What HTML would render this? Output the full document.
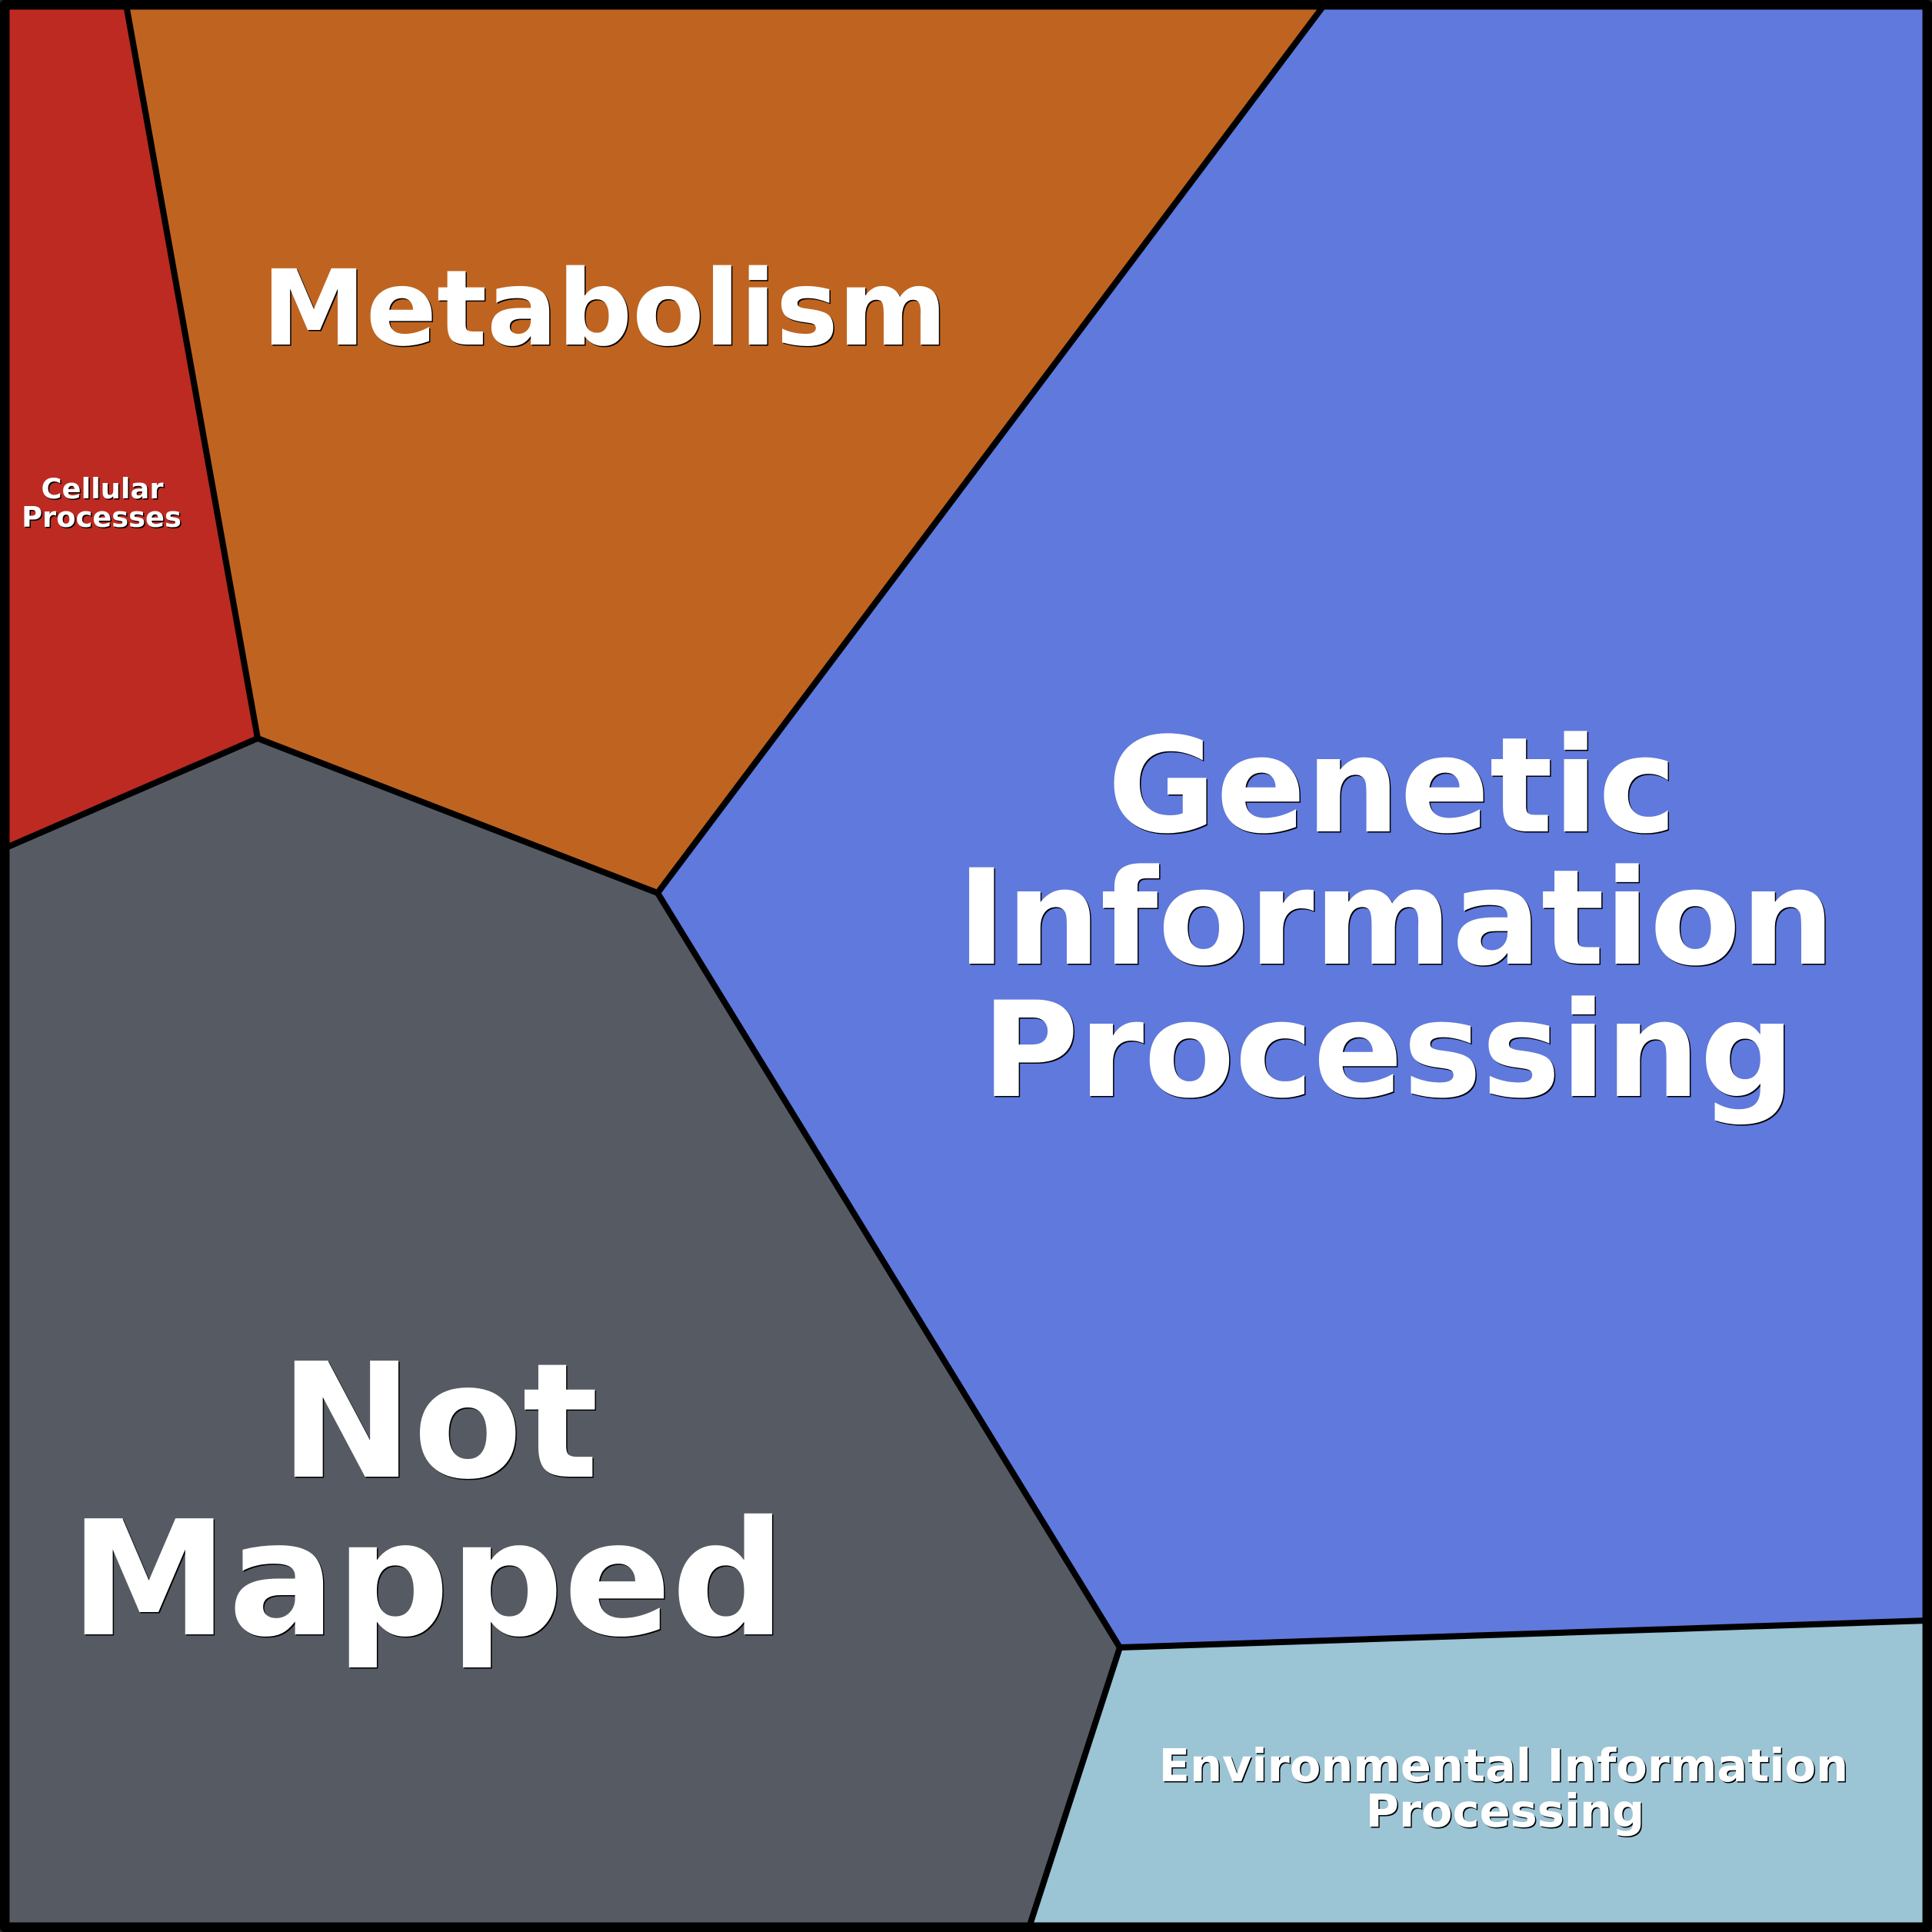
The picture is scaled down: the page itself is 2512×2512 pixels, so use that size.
<!DOCTYPE html>
<html><head><meta charset="utf-8"><style>
html,body{margin:0;padding:0;background:#fff}
svg{display:block}
text{font-family:"DejaVu Sans",sans-serif;font-weight:bold;text-anchor:middle}
.s{fill:#000}.t{fill:#fff}
</style></head><body>
<svg width="2512" height="2512" viewBox="0 0 2512 2512" xmlns="http://www.w3.org/2000/svg">
<rect width="2512" height="2512" fill="#222"/>
<polygon points="6,6 164,6 335,960 6,1103" fill="#bc2a22"/>
<polygon points="164,6 1722,6 855,1161 335,960" fill="#bf6420"/>
<polygon points="1722,6 2506,6 2506,2107 1456,2142 855,1161" fill="#5f79dd"/>
<polygon points="6,1103 335,960 855,1161 1456,2142 1338,2506 6,2506" fill="#565b63"/>
<polygon points="1456,2142 2506,2107 2506,2506 1338,2506" fill="#9bc4d5"/>
<g fill="none" stroke="#000" stroke-width="8">
<polyline points="164,6 335,960 855,1161 1722,6"/>
<polyline points="6,1103 335,960"/>
<polyline points="855,1161 1456,2142 2506,2107"/>
<polyline points="1456,2142 1338,2506"/>
</g>
<rect x="6.2" y="6.2" width="2499.6" height="2499.6" fill="none" stroke="#000" stroke-width="12.5" stroke-linejoin="round"/>
<g class="s" transform="translate(1.5,1.5)">
<text x="786" y="448" font-size="136">Metabolism</text>
<text x="1810" y="1081" font-size="172">Genetic</text>
<text x="1815" y="1253" font-size="172">Information</text>
<text x="1805" y="1425" font-size="172">Processing</text>
<text x="571" y="1920" font-size="207">Not</text>
<text x="556" y="2125" font-size="207">Mapped</text>
<text x="133" y="648" font-size="36.8">Cellular</text>
<text x="132" y="685" font-size="36.8">Processes</text>
<text x="1955" y="2316" font-size="59">Environmental Information</text>
<text x="1957" y="2375" font-size="59">Processing</text>
</g>
<g class="t">
<text x="786" y="448" font-size="136">Metabolism</text>
<text x="1810" y="1081" font-size="172">Genetic</text>
<text x="1815" y="1253" font-size="172">Information</text>
<text x="1805" y="1425" font-size="172">Processing</text>
<text x="571" y="1920" font-size="207">Not</text>
<text x="556" y="2125" font-size="207">Mapped</text>
<text x="133" y="648" font-size="36.8">Cellular</text>
<text x="132" y="685" font-size="36.8">Processes</text>
<text x="1955" y="2316" font-size="59">Environmental Information</text>
<text x="1957" y="2375" font-size="59">Processing</text>
</g>
</svg>
</body></html>
